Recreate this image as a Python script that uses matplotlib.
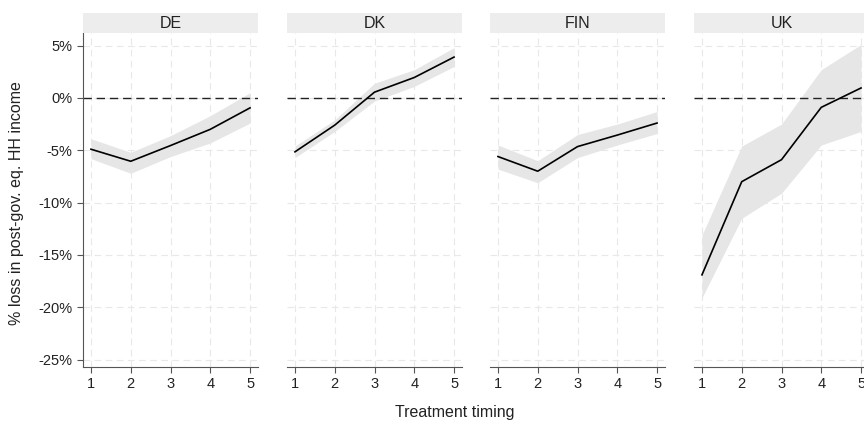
import numpy as np
import matplotlib.pyplot as plt
from matplotlib.ticker import FuncFormatter

plt.rcParams["font.family"] = ["Liberation Sans", "DejaVu Sans"]

countries = ["DE", "DK", "FIN", "UK"]
timing = [1, 2, 3, 4, 5]

# point estimates (% change)
est = {
    "DE": [-4.9, -6.05, -4.55, -3.0, -0.95],
    "DK": [-5.15, -2.6, 0.55, 1.95, 3.9],
    "FIN": [-5.6, -7.0, -4.65, -3.55, -2.4],
    "UK": [-16.9, -8.0, -5.9, -0.9, 0.95],
}
# confidence band
lo = {
    "DE": [-5.8, -7.2, -5.6, -4.3, -2.4],
    "DK": [-5.7, -3.2, -0.3, 1.1, 3.0],
    "FIN": [-6.8, -8.1, -5.7, -4.5, -3.4],
    "UK": [-19.1, -11.5, -9.1, -4.5, -3.2],
}
hi = {
    "DE": [-3.9, -5.2, -3.6, -1.7, 0.5],
    "DK": [-4.6, -2.1, 1.4, 2.7, 4.8],
    "FIN": [-4.5, -6.0, -3.5, -2.5, -1.3],
    "UK": [-13.1, -4.6, -2.5, 2.7, 5.1],
}
yticks = [5, 0, -5, -10, -15, -20, -25]

fig = plt.figure(figsize=(8.64, 4.22), dpi=100)
W, H = 864.0, 422.0
lefts = [83, 287, 490, 694]
pw = 175
top, bot = 33, 367
strip_h = 20
txt = "#222222"

for i, c in enumerate(countries):
    ax = fig.add_axes([lefts[i] / W, 1 - bot / H, pw / W, (bot - top) / H])
    ax.fill_between(timing, lo[c], hi[c], color="#e6e6e6", lw=0, zorder=1)
    ax.plot(timing, est[c], color="black", lw=1.2, zorder=3)
    ax.axhline(0, color="#222222", lw=1.0, ls=(0, (6, 3.5)), zorder=2)
    ax.set_xlim(0.8, 5.2)
    ax.set_ylim(-25.7, 6.2)
    ax.set_xticks(timing)
    ax.set_yticks(yticks)
    ax.grid(True, color="#e8e8e8", lw=0.8, ls=(0, (6, 4)), zorder=0)
    ax.set_axisbelow(True)
    for s in ["top", "right"]:
        ax.spines[s].set_visible(False)
    ax.spines["bottom"].set_color("#555555")
    ax.spines["left"].set_color("#555555")
    ax.tick_params(colors="#555555", labelcolor=txt, labelsize=10.5, length=4)
    if i == 0:
        ax.yaxis.set_major_formatter(FuncFormatter(lambda v, p: f"{v:.0f}%"))
    else:
        ax.spines["left"].set_visible(False)
        ax.tick_params(axis="y", left=False, labelleft=False)

    # strip header
    sax = fig.add_axes([lefts[i] / W, 1 - (top) / H, pw / W, strip_h / H])
    sax.set_facecolor("#ededed")
    sax.set_xticks([])
    sax.set_yticks([])
    for s in sax.spines.values():
        s.set_visible(False)
    sax.text(0.5, 0.45, c, ha="center", va="center", fontsize=11.5, color=txt,
             transform=sax.transAxes)

fig.text(17 / W, 1 - 203 / H, "% loss in post-gov. eq. HH income", rotation=90,
         ha="center", va="center", fontsize=11.5, color=txt)
fig.text(455 / W, 1 - 412 / H, "Treatment timing", ha="center", va="center",
         fontsize=11.5, color=txt)

fig.savefig("out.png", dpi=100)
